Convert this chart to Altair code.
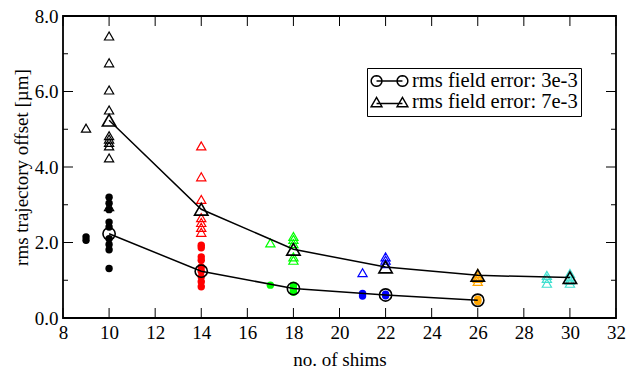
import math
import altair as alt
import pandas as pd

# ---------------- data ----------------
# rms field error 3e-3 (filled circles)
circ_shims = [9, 9,
              10, 10, 10, 10, 10, 10, 10, 10, 10,
              14, 14, 14, 14, 14, 14, 14, 14, 14,
              17, 18, 18, 18, 18,
              21, 21, 22, 22,
              26, 26, 26]
circ_offset = [2.15, 2.06,
               3.20, 3.04, 2.87, 2.54, 2.41, 2.10, 1.95, 1.81, 1.31,
               1.93, 1.86, 1.62, 1.53, 1.35, 1.24, 1.09, 0.96, 0.83,
               0.87, 0.87, 0.80, 0.72, 0.68,
               0.65, 0.58, 0.63, 0.59,
               0.50, 0.46, 0.44]

# rms field error 7e-3 (open triangles)
tri_shims = [9,
             10, 10, 10, 10, 10, 10, 10, 10, 10, 10,
             14, 14, 14, 14, 14, 14, 14,
             17, 18, 18, 18, 18, 18,
             21, 22, 22, 22,
             26, 26, 26, 26,
             29, 29, 29, 30, 30, 30, 30]
tri_offset = [5.03,
              7.47, 6.76, 6.04, 5.51, 4.83, 4.74, 4.65, 4.56, 4.24, 2.95,
              4.56, 3.74, 3.14, 2.66, 2.53, 2.40, 2.27,
              1.99, 2.16, 2.08, 1.97, 1.62, 1.53,
              1.20, 1.62, 1.53, 1.44,
              1.18, 1.11, 1.05, 0.97,
              1.13, 1.05, 0.92, 1.18, 1.09, 1.00, 0.92]

# averages
mean_circ_shims = [10, 14, 18, 22, 26]
mean_circ = [2.23, 1.24, 0.78, 0.61, 0.47]
mean_tri_shims = [10, 14, 18, 22, 26, 30]
mean_tri = [5.24, 2.88, 1.82, 1.35, 1.13, 1.07]

series_labels = ["rms field error: 3e-3", "rms field error: 7e-3"]

x_ticks = [8, 10, 12, 14, 16, 18, 20, 22, 24, 26, 28, 30, 32]
y_major = [0, 2, 4, 6, 8]
y_minor = [1, 3, 5, 7]

# ---------------- styling ----------------
shim_domain = [9, 10, 14, 17, 18, 21, 22, 26, 29, 30]
shim_colors = ["#000000", "#000000", "#ff0000", "#00ff00", "#00ff00",
               "#0000ff", "#0000ff", "#ffa500", "#40e0d0", "#40e0d0"]
FONT = "Liberation Serif"
FS = 19
W, H = 553, 302

circ_df = pd.DataFrame({"shims": circ_shims, "offset": circ_offset})
tri_df = pd.DataFrame({"shims": tri_shims, "offset": tri_offset})
mc_df = pd.DataFrame({"shims": mean_circ_shims, "offset": mean_circ})
mt_df = pd.DataFrame({"shims": mean_tri_shims, "offset": mean_tri})

xscale = alt.Scale(domain=[8, 32], nice=False, zero=False)
yscale = alt.Scale(domain=[0, 8], nice=False, zero=False)
color = alt.Color("shims:N", scale=alt.Scale(domain=shim_domain, range=shim_colors), legend=None)

x_enc = alt.X("shims:Q", scale=xscale,
              axis=alt.Axis(title="no. of shims", values=x_ticks, format="d", ticks=False,
                            domain=False, grid=False, labelPadding=5, titlePadding=8,
                            labelFont=FONT, labelFontSize=FS, titleFont=FONT, titleFontSize=FS,
                            titleFontWeight="normal", labelColor="black", titleColor="black",
                            labelFlush=False, labelOverlap=False))
y_enc = alt.Y("offset:Q", scale=yscale,
              axis=alt.Axis(title="rms trajectory offset [µm]", values=y_major, format=".1f",
                            ticks=False, domain=False, grid=False, labelPadding=5, titlePadding=3,
                            labelFont=FONT, labelFontSize=FS, titleFont=FONT, titleFontSize=FS,
                            titleFontWeight="normal", labelColor="black", titleColor="black",
                            labelFlush=False, labelOverlap=False))

circles = alt.Chart(circ_df).mark_point(shape="circle", filled=True, size=55, opacity=1).encode(
    x=x_enc, y=y_enc, color=color)
triangles = alt.Chart(tri_df).mark_point(shape="triangle-up", filled=False, size=85,
                                         strokeWidth=1.2, opacity=1).encode(
    x="shims:Q", y="offset:Q", color=color)

mc_line = alt.Chart(mc_df).mark_line(color="black", strokeWidth=1.5).encode(x="shims:Q", y="offset:Q")
mt_line = alt.Chart(mt_df).mark_line(color="black", strokeWidth=1.5).encode(x="shims:Q", y="offset:Q")
mc_pts = alt.Chart(mc_df).mark_point(shape="circle", filled=False, size=150, color="black",
                                     strokeWidth=1.6, opacity=1).encode(x="shims:Q", y="offset:Q")
mt_pts = alt.Chart(mt_df).mark_point(shape="triangle-up", filled=False, size=180, color="black",
                                     strokeWidth=1.6, opacity=1).encode(x="shims:Q", y="offset:Q")


# legend glyphs (symbol shapes, unit coordinates)
def ring(cx, cy, r, n=20):
    pts = [(cx + r * math.cos(2 * math.pi * i / n), cy + r * math.sin(2 * math.pi * i / n)) for i in range(n)]
    return "M" + " L".join(f"{a:.3f},{b:.3f}" for a, b in pts) + " Z"


def tri(cx, cy, w, h):
    return (f"M{cx - w / 2:.3f},{cy + h / 2:.3f} L{cx + w / 2:.3f},{cy + h / 2:.3f} "
            f"L{cx:.3f},{cy - h / 2:.3f} Z")


path_circ = ring(-0.7, 0, 0.29) + " " + ring(0.7, 0, 0.29) + " M-0.7,0 L0.7,0"
path_tri = tri(-0.7, 0, 0.58, 0.5) + " " + tri(0.7, 0, 0.58, 0.5) + " M-0.7,0.08 L0.7,0.08"

leg_df = pd.DataFrame({"series": series_labels, "shims": [20, 20], "offset": [4, 4]})
legend_layer = alt.Chart(leg_df).mark_point(opacity=0, color="black", filled=False).encode(
    x="shims:Q", y="offset:Q",
    shape=alt.Shape("series:N",
                    scale=alt.Scale(domain=series_labels, range=[path_circ, path_tri]),
                    legend=alt.Legend(title=None, orient="none", legendX=304, legendY=52,
                                      symbolSize=1369, clipHeight=20, labelOffset=3,
                                      labelFont=FONT, labelFontSize=20.5, labelColor="black",
                                      labelLimit=400, symbolStrokeColor="black",
                                      symbolFillColor="transparent", symbolStrokeWidth=1.5,
                                      symbolOpacity=1, strokeColor="black", fillColor="white",
                                      padding=3, rowPadding=0)))

# inward tick marks (tick values through the shared scales)
xt_df = pd.DataFrame({"shims": x_ticks})
ymaj_df = pd.DataFrame({"offset": y_major})
ymin_df = pd.DataFrame({"offset": y_minor})
MAJ, MIN = 10, 5
tick_bottom = alt.Chart(xt_df).mark_rule(color="black", strokeWidth=1).encode(
    x="shims:Q", y=alt.value(H), y2=alt.value(H - MAJ))
tick_top = alt.Chart(xt_df).mark_rule(color="black", strokeWidth=1).encode(
    x="shims:Q", y=alt.value(0), y2=alt.value(MAJ))
tick_left_maj = alt.Chart(ymaj_df).mark_rule(color="black", strokeWidth=1).encode(
    y="offset:Q", x=alt.value(0), x2=alt.value(MAJ))
tick_left_min = alt.Chart(ymin_df).mark_rule(color="black", strokeWidth=1).encode(
    y="offset:Q", x=alt.value(0), x2=alt.value(MIN))
tick_right_maj = alt.Chart(ymaj_df).mark_rule(color="black", strokeWidth=1).encode(
    y="offset:Q", x=alt.value(W), x2=alt.value(W - MAJ))
tick_right_min = alt.Chart(ymin_df).mark_rule(color="black", strokeWidth=1).encode(
    y="offset:Q", x=alt.value(W), x2=alt.value(W - MIN))

chart = alt.layer(
    circles, triangles,
    tick_bottom, tick_top, tick_left_maj, tick_left_min, tick_right_maj, tick_right_min,
    mc_line, mt_line, mc_pts, mt_pts, legend_layer
).properties(
    width=W, height=H,
    autosize=alt.AutoSizeParams(type="none"),
    padding={"left": 63, "top": 16, "right": 12, "bottom": 57},
    background="white",
).configure_view(stroke="black", strokeWidth=1.8)

chart.save("out.html", embed_options={"renderer": "svg", "actions": False})
